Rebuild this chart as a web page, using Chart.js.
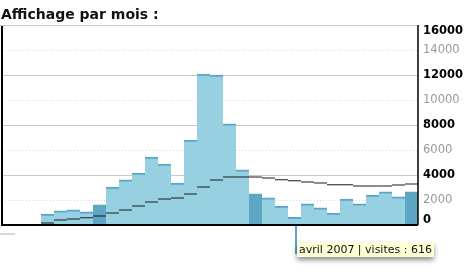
<!DOCTYPE html>
<html>
<head>
<meta charset="utf-8">
<script src="https://cdn.jsdelivr.net/npm/chart.js@4"></script>
<style>
  html, body { margin: 0; padding: 0; background: #fff; }
  #wrap { position: relative; width: 465px; height: 280px; }
</style>
</head>
<body>
<div id="wrap"><canvas id="chart" width="465" height="280"></canvas></div>
<script>
// months, juin 2005 -> janvier 2008
const months = [
  "juin 2005", "juillet 2005", "août 2005", "septembre 2005", "octobre 2005", "novembre 2005",
  "décembre 2005", "janvier 2006", "février 2006", "mars 2006", "avril 2006", "mai 2006",
  "juin 2006", "juillet 2006", "août 2006", "septembre 2006", "octobre 2006", "novembre 2006",
  "décembre 2006", "janvier 2007", "février 2007", "mars 2007", "avril 2007", "mai 2007",
  "juin 2007", "juillet 2007", "août 2007", "septembre 2007", "octobre 2007", "novembre 2007",
  "décembre 2007", "janvier 2008"
];
const visites = [
  null, null, null, 880, 1140, 1220, 1060, 1620, 3040, 3620, 4160, 5440,
  4880, 3360, 6800, 12080, 12000, 8100, 4420, 2500, 2180, 1520, 616, 1700,
  1380, 960, 2080, 1700, 2400, 2660, 2260, 2660
];
const moyenne = [
  null, null, null, 160, 400, 480, 580, 720, 960, 1200, 1520, 1840,
  2080, 2160, 2480, 3040, 3600, 3840, 3840, 3840, 3760, 3620, 3540, 3440,
  3360, 3220, 3220, 3120, 3120, 3120, 3200, 3280
];
const yTicks = [0, 2000, 4000, 6000, 8000, 10000, 12000, 14000, 16000];
const title = "Affichage par mois :";
const tipIndex = 22;

const light = "#97d1e1", dark = "#5ea6c4", edge = "#5aa5c8";
const isJan = (i) => months[i].startsWith("janvier");

const decor = {
  id: "decor",
  beforeDatasetsDraw(chart) {
    const { ctx, chartArea: a, scales } = chart;
    ctx.save();
    // grid lines
    yTicks.forEach((v) => {
      const y = Math.round(scales.y.getPixelForValue(v)) + 0.5;
      if (v === 0) return;
      ctx.beginPath();
      if (v % 4000 === 0) {
        ctx.strokeStyle = "#c8c8c8";
        ctx.setLineDash([]);
      } else {
        ctx.strokeStyle = "#d8d8d8";
        ctx.setLineDash([1, 2]);
      }
      ctx.lineWidth = 1;
      ctx.moveTo(v === 16000 ? 0 : a.left, y);
      ctx.lineTo(a.right, y);
      ctx.stroke();
    });
    ctx.restore();
  },
  afterDraw(chart) {
    const { ctx, chartArea: a, scales } = chart;
    ctx.save();
    // axes
    ctx.strokeStyle = "#000";
    ctx.lineWidth = 2;
    ctx.beginPath();
    ctx.moveTo(a.left, a.top + 1);
    ctx.lineTo(a.left, a.bottom);
    ctx.lineTo(a.right, a.bottom);
    ctx.stroke();
    ctx.lineWidth = 1.5;
    ctx.beginPath();
    ctx.moveTo(a.right, a.top);
    ctx.lineTo(a.right, a.bottom);
    ctx.stroke();
    // tick labels, squeezed at the ends like the original
    yTicks.forEach((v) => {
      const major = v % 4000 === 0;
      let y = scales.y.getPixelForValue(v);
      if (v === 16000) y += 6;
      if (v === 0) y -= 5;
      ctx.font = (major ? "bold " : "") + "11.5px 'DejaVu Sans', Verdana, sans-serif";
      ctx.fillStyle = major ? "#000" : "#999";
      ctx.textBaseline = "middle";
      ctx.textAlign = "left";
      ctx.fillText(String(v), a.right + 5, y);
    });
    // small grey mark bottom-left
    ctx.strokeStyle = "#c8c8c8";
    ctx.lineWidth = 1.5;
    ctx.beginPath();
    ctx.moveTo(0, a.bottom + 9);
    ctx.lineTo(15, a.bottom + 9);
    ctx.stroke();
    // title
    ctx.fillStyle = "#111";
    ctx.font = "bold 14px 'DejaVu Sans', Verdana, sans-serif";
    ctx.textBaseline = "alphabetic";
    ctx.fillText(title, 1, 19);
    // tooltip
    const x = Math.round(scales.x.getPixelForValue(tipIndex) + 1.5);
    ctx.strokeStyle = edge;
    ctx.lineWidth = 2;
    ctx.beginPath();
    ctx.moveTo(x, a.bottom + 1);
    ctx.lineTo(x, a.bottom + 29);
    ctx.stroke();
    const text = months[tipIndex] + " | visites : " + visites[tipIndex];
    ctx.font = "11px 'DejaVu Sans', Verdana, sans-serif";
    const w = ctx.measureText(text).width + 4;
    const bx = x + 1, by = a.bottom + 17, bh = 15;
    ctx.shadowColor = "rgba(0,0,0,0.45)";
    ctx.shadowBlur = 5;
    ctx.shadowOffsetY = 3;
    ctx.fillStyle = "#ffffd6";
    ctx.fillRect(bx, by, w, bh);
    ctx.shadowColor = "transparent";
    ctx.fillStyle = "#111";
    ctx.fillText(text, bx + 2, by + 11);
    ctx.restore();
  }
};

new Chart(document.getElementById("chart"), {
  type: "bar",
  data: {
    labels: months,
    datasets: [
      {
        type: "line",
        data: moyenne,
        showLine: false,
        pointStyle: "line",
        pointRadius: 6.5,
        pointBorderWidth: 1,
        pointBorderColor: "#1a1a1a",
        pointBackgroundColor: "#1a1a1a",
        order: 0
      },
      {
        data: visites,
        backgroundColor: visites.map((v, i) => (isJan(i) ? dark : light)),
        borderColor: visites.map((v, i) => (isJan(i) ? dark : edge)),
        borderWidth: { top: 2, left: 0, right: 0, bottom: 0 },
        borderSkipped: "bottom",
        barPercentage: 1,
        categoryPercentage: 1,
        order: 1
      }
    ]
  },
  options: {
    responsive: false,
    animation: false,
    events: [],
    layout: { autoPadding: false, padding: { left: 2, top: 25, bottom: 55, right: 0 } },
    plugins: { legend: { display: false }, tooltip: { enabled: false } },
    scales: {
      x: { display: false, offset: true },
      y: {
        position: "right",
        min: 0,
        max: 16000,
        afterFit(s) { s.width = 47; },
        afterBuildTicks(s) { s.ticks = yTicks.map((v) => ({ value: v })); },
        grid: { display: false, drawTicks: false },
        border: { display: false },
        ticks: { display: false }
      }
    }
  },
  plugins: [decor]
});
</script>
</body>
</html>
